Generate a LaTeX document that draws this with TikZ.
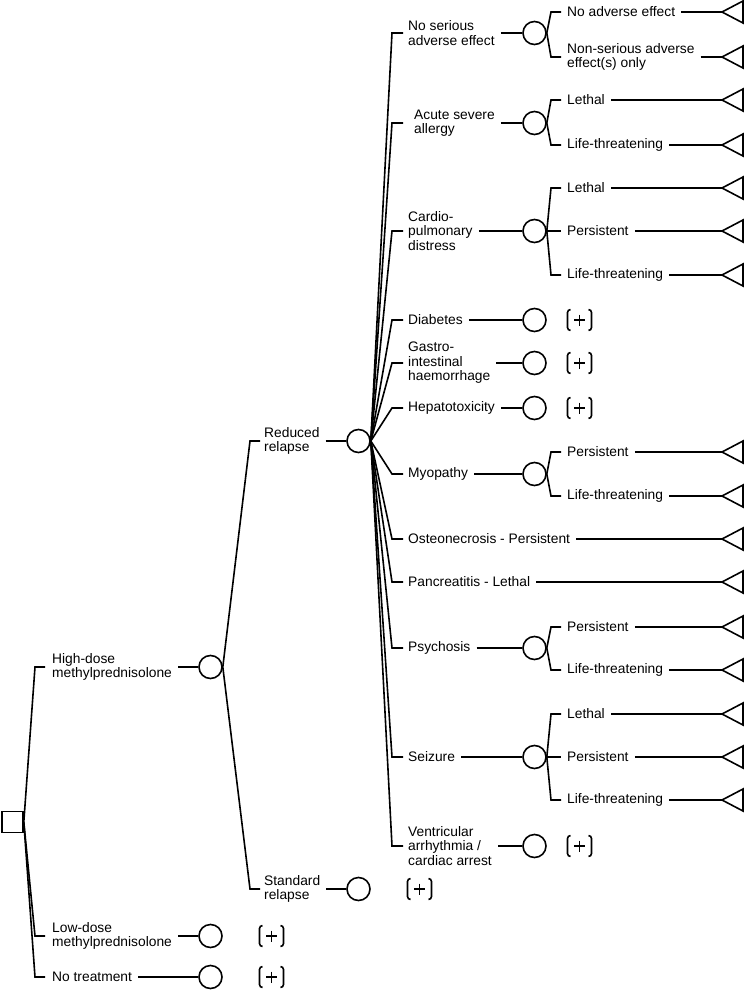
\documentclass[tikz,border=0pt]{standalone}
\usepackage{fontspec}
\setmainfont{Liberation Sans}
\newcommand\lblfont{\fontsize{13.8}{14.6}\selectfont}
\tikzset{
  ln/.style={line width=1.6pt},
  chance/.style={circle,draw,line width=1.6pt,minimum size=23pt,inner sep=0pt},
  decision/.style={rectangle,draw,line width=1.6pt,minimum size=21pt,inner sep=0pt},
  lbl/.style={anchor=west,align=left,inner sep=0pt,font=\lblfont},
}
% leaf: parent, name, y, text
\newcommand\mkleaf[4]{%
  \node[lbl] (#2) at (567,#3) {#4};
  \draw[ln] (#1.east) -- ([xshift=-16pt]#2.west) -- ([xshift=-6pt]#2.west);
  \coordinate (#2-t) at (722,#3);
  \draw[ln] ([xshift=6pt]#2.east) -- (#2-t);
  \draw[ln] (#2-t) -- ++(21,-11) -- ++(0,22) -- cycle;
}
% plus box: name, x, y
\newcommand\mkplus[3]{%
  \coordinate (#1) at (#2,#3);
  \draw[ln] (#1) ++(-9,-10.5) to[out=180,in=90] ++(-3,3) -- ++(0,15) to[out=-90,in=180] ++(3,3);
  \draw[ln] (#1) ++(9,-10.5) to[out=0,in=90] ++(3,3) -- ++(0,15) to[out=-90,in=0] ++(-3,3);
  \draw[ln] (#1) ++(-5.5,0) -- ++(11,0);
  \draw[ln] (#1) ++(0,-5.5) -- ++(0,11);
}
% mid-level branch from reduced relapse: name, y, labelx, text
\newcommand\mkmid[4]{%
  \node[lbl] (#1) at (#3,#2) {#4};
  \draw[ln] (rr-c.east) -- ([xshift=-#3pt+392pt]#1.west) -- ([xshift=-#3pt+403pt]#1.west);
}
\begin{document}
\begin{tikzpicture}[x=1pt,y=-1pt]
\useasboundingbox (0,0) rectangle (745,992);

% root
\node[decision] (root) at (12.5,822) {};

% level 1
\node[lbl] (hd) at (52,667) {High-dose\\methylprednisolone};
\node[lbl] (ld) at (52,936) {Low-dose\\methylprednisolone};
\node[lbl] (nt) at (52,977) {No treatment};
\foreach \n in {hd,ld,nt}{
  \draw[ln] (root.east) -- ([xshift=-17pt]\n.west) -- ([xshift=-7pt]\n.west);
}
\node[chance] (hd-c) at (210.5,667) {};
\node[chance] (ld-c) at (210.5,936) {};
\node[chance] (nt-c) at (210.5,977) {};
\foreach \n in {hd,ld,nt}{
  \draw[ln] ([xshift=6pt]\n.east) -- (\n-c.west);
}
\mkplus{ld-p}{271.5}{936}
\mkplus{nt-p}{271.5}{977}

% level 2
\node[lbl] (rr) at (264,441) {Reduced\\relapse};
\node[lbl] (sr) at (264,889) {Standard\\relapse};
\foreach \n in {rr,sr}{
  \draw[ln] (hd-c.east) -- ([xshift=-14pt]\n.west) -- ([xshift=-4pt]\n.west);
}
\node[chance] (rr-c) at (358.5,441) {};
\node[chance] (sr-c) at (358.5,889) {};
\foreach \n in {rr,sr}{
  \draw[ln] ([xshift=6pt]\n.east) -- (\n-c.west);
}
\mkplus{sr-p}{419.5}{889}

% level 3
\mkmid{nsae}{33}{408}{No serious\\adverse effect}
\mkmid{asa}{123}{414}{Acute severe\\allergy}
\mkmid{cpd}{231}{408}{Cardio-\\pulmonary\\distress}
\mkmid{dia}{320}{408}{Diabetes}
\mkmid{gih}{363}{408}{Gastro-\\intestinal\\haemorrhage}
\mkmid{hep}{408}{408}{Hepatotoxicity}
\mkmid{myo}{474}{408}{Myopathy}
\mkmid{ost}{539}{408}{Osteonecrosis - Persistent}
\mkmid{pan}{582}{408}{Pancreatitis - Lethal}
\mkmid{psy}{648}{408}{Psychosis}
\mkmid{sei}{757}{408}{Seizure}
\mkmid{ven}{846}{408}{Ventricular\\arrhythmia /\\cardiac arrest}

\foreach \n/\y in {nsae/33,asa/123,cpd/231,dia/320,gih/363,hep/408,myo/474,psy/648,sei/757,ven/846}{
  \node[chance] (\n-c) at (534.5,\y) {};
  \draw[ln] ([xshift=6pt]\n.east) -- (\n-c.west);
}
\mkplus{dia-p}{579.5}{320}
\mkplus{gih-p}{579.5}{363}
\mkplus{hep-p}{579.5}{408}
\mkplus{ven-p}{579.5}{846}

% direct leaves from reduced relapse
\foreach \n/\y in {ost/539,pan/582}{
  \coordinate (\n-t) at (722,\y);
  \draw[ln] ([xshift=6pt]\n.east) -- (\n-t);
  \draw[ln] (\n-t) -- ++(21,-11) -- ++(0,22) -- cycle;
}

% level 4 leaves
\mkleaf{nsae-c}{nsae1}{12}{No adverse effect}
\mkleaf{nsae-c}{nsae2}{57}{Non-serious adverse\\effect(s) only}
\mkleaf{asa-c}{asa1}{100}{Lethal}
\mkleaf{asa-c}{asa2}{145}{Life-threatening}
\mkleaf{cpd-c}{cpd1}{188}{Lethal}
\mkleaf{cpd-c}{cpd2}{231}{Persistent}
\mkleaf{cpd-c}{cpd3}{275}{Life-threatening}
\mkleaf{myo-c}{myo1}{452}{Persistent}
\mkleaf{myo-c}{myo2}{496}{Life-threatening}
\mkleaf{psy-c}{psy1}{627}{Persistent}
\mkleaf{psy-c}{psy2}{670}{Life-threatening}
\mkleaf{sei-c}{sei1}{714}{Lethal}
\mkleaf{sei-c}{sei2}{757}{Persistent}
\mkleaf{sei-c}{sei3}{800}{Life-threatening}
\end{tikzpicture}
\end{document}
